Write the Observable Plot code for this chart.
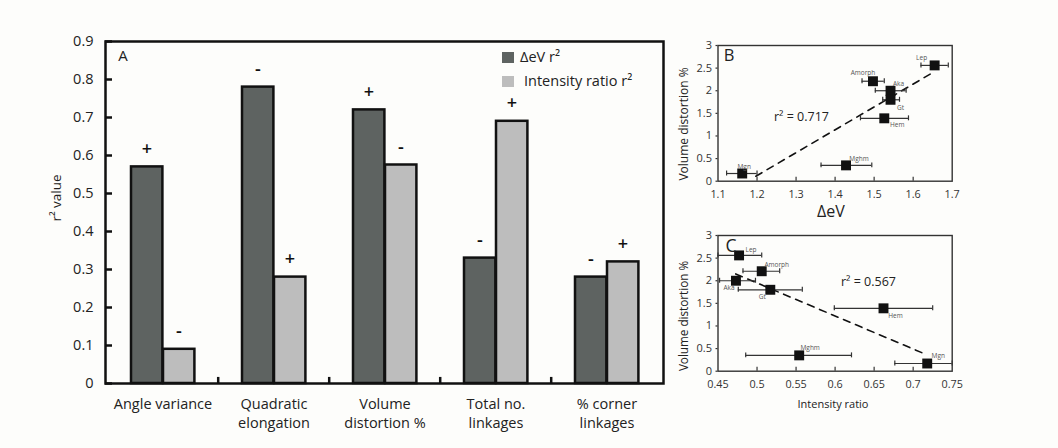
<!DOCTYPE html>
<html><head><meta charset="utf-8">
<script src="https://cdn.jsdelivr.net/npm/d3@7"></script>
<script src="https://cdn.jsdelivr.net/npm/@observablehq/plot@0.6"></script>
<style>
body{margin:0;background:#fdfdfb;}
#wrap{position:relative;width:1058px;height:448px;overflow:hidden;font-family:"Open Sans",sans-serif;color:#222;}
.panel{position:absolute;}
.lbl{position:absolute;white-space:nowrap;line-height:1;}
.c{transform:translate(-50%,-50%);}
.rot{transform:translate(-50%,-50%) rotate(-90deg);}
.sq{position:absolute;width:12px;height:11px;}
</style></head><body><div id="wrap"></div>
<script>
// ---------- Panel A data ----------
const categories = ["Angle variance", "Quadratic\nelongation", "Volume\ndistortion %", "Total no.\nlinkages", "% corner\nlinkages"];
const seriesNames = ["ΔeV r²", "Intensity ratio r²"];
const deltaEvR2 = [0.57, 0.78, 0.72, 0.33, 0.28];
const intensityR2 = [0.09, 0.28, 0.575, 0.69, 0.32];
const deltaEvSign = ["+", "-", "+", "-", "-"];
const intensitySign = ["-", "+", "-", "+", "+"];
const yTicksA = [0, 0.1, 0.2, 0.3, 0.4, 0.5, 0.6, 0.7, 0.8, 0.9];

// ---------- Panels B & C data ----------
const minerals = ["Lep", "Amorph", "Aka", "Gt", "Hem", "Mghm", "Mgn"];
const volDistortion = [2.56, 2.21, 2.0, 1.8, 1.39, 0.35, 0.17];
const deltaEv = [1.655, 1.497, 1.542, 1.542, 1.526, 1.428, 1.162];
const deltaEvLo = [1.62, 1.469, 1.503, 1.522, 1.465, 1.364, 1.122];
const deltaEvHi = [1.69, 1.526, 1.582, 1.565, 1.588, 1.494, 1.2];
const intensity = [0.477, 0.506, 0.473, 0.517, 0.662, 0.554, 0.718];
const intensityLo = [0.45, 0.482, 0.452, 0.476, 0.599, 0.4855, 0.6765];
const intensityHi = [0.506, 0.529, 0.498, 0.558, 0.725, 0.621, 0.75];
const fitB = {x: [1.197, 1.65], y: [0.11, 2.40]};
const fitC = {x: [0.4727, 0.7145], y: [2.15, 0.385]};
const r2B = "0.717", r2C = "0.567";
const xTicksB = [1.1, 1.2, 1.3, 1.4, 1.5, 1.6, 1.7];
const xTicksC = [0.45, 0.5, 0.55, 0.6, 0.65, 0.7, 0.75];
const yTicksBC = [0, 0.5, 1, 1.5, 2, 2.5, 3];

// ---------- layout (label offsets, px) ----------
const labelOffB = {Lep:[-13,-7], Amorph:[-10,-8], Aka:[8,-7], Gt:[10,8], Hem:[13,7], Mghm:[13,-6], Mgn:[2,-7]};
const labelOffC = {Lep:[12,-5], Amorph:[15,-6], Aka:[-7,7], Gt:[-8,7], Hem:[12,8], Mghm:[11,-7], Mgn:[11,-8]};

const FONT = "'Open Sans', sans-serif";
const darkFill = "#5e6361", lightFill = "#bdbdbd";
const fmt = d3.format("");
const wrap = document.getElementById("wrap");

function place(node, left, top) {
  const d = document.createElement("div");
  d.className = "panel"; d.style.left = left + "px"; d.style.top = top + "px";
  d.appendChild(node); wrap.appendChild(d);
}
function label(html, x, y, size, cls = "c", extra = "") {
  const d = document.createElement("div");
  d.className = "lbl " + cls; d.innerHTML = html;
  d.style.left = x + "px"; d.style.top = y + "px"; d.style.fontSize = size + "px";
  if (extra) d.style.cssText += extra;
  wrap.appendChild(d);
}

// ---------- Panel A ----------
const darkRows = categories.map((c, i) => ({cat: c, value: deltaEvR2[i], sign: deltaEvSign[i]}));
const lightRows = categories.map((c, i) => ({cat: c, value: intensityR2[i], sign: intensitySign[i]}));
const half = (663 - 105) / categories.length / 2;

const plotA = Plot.plot({
  width: 680, height: 448,
  marginLeft: 105, marginRight: 17, marginTop: 41, marginBottom: 65,
  x: {domain: categories, padding: 0, label: null},
  y: {domain: [0, 0.9], label: null},
  style: {background: "transparent", fontFamily: FONT, fontSize: "14.5px", color: "#222", overflow: "visible"},
  marks: [
    Plot.barY(darkRows, {x: "cat", y: "value", fill: darkFill, stroke: "#111", strokeWidth: 2.5, insetLeft: 24, insetRight: 2 * half - 56}),
    Plot.barY(lightRows, {x: "cat", y: "value", fill: lightFill, stroke: "#111", strokeWidth: 2.5, insetLeft: 56, insetRight: 2 * half - 88}),
    Plot.text(darkRows, {x: "cat", y: "value", text: "sign", dx: -16, dy: -12, lineAnchor: "bottom", fontSize: 18, fontWeight: 600, fill: "#111"}),
    Plot.text(lightRows, {x: "cat", y: "value", text: "sign", dx: 16, dy: -12, lineAnchor: "bottom", fontSize: 18, fontWeight: 600, fill: "#111"}),
    Plot.ruleX(categories.slice(1), {x: d => d, dx: -half, y1: 0, y2: 0.016, stroke: "#111", strokeWidth: 2.5}),
    Plot.frame({stroke: "#111", strokeWidth: 2.5}),
    Plot.axisY({ticks: yTicksA, tickSize: 0, tickPadding: 12, fontSize: 14.5, tickFormat: fmt}),
    Plot.axisY({ticks: yTicksA, tickSize: 7, dx: 7, tickFormat: () => "", stroke: "#111", strokeWidth: 2.5}),
    Plot.axisX({tickSize: 0, tickPadding: 12, lineHeight: 1.3, fontSize: 14.5})
  ]
});
place(plotA, 0, 0);

// legend + panel label + y title for A
const sq1 = document.createElement("div"); sq1.className = "sq"; sq1.style.cssText += `left:502px;top:52px;background:${darkFill};`; wrap.appendChild(sq1);
const sq2 = document.createElement("div"); sq2.className = "sq"; sq2.style.cssText += `left:502px;top:76px;background:${lightFill};`; wrap.appendChild(sq2);
label(seriesNames[0], 520, 57, 14.5, "", "transform:translateY(-50%);");
label(seriesNames[1], 524, 81, 14.5, "", "transform:translateY(-50%);");
label("A", 123, 55, 15);
label("r² value", 57, 198, 13.5, "rot");

// ---------- Panels B & C ----------
function scatterPanel({xs, lo, hi, xDomain, xTicks, fit, offsets, r2, r2dx, r2dy}) {
  const rows = minerals.map((m, i) => ({m, x: xs[i], lo: lo[i], hi: hi[i], y: volDistortion[i]}));
  const fitRows = fit.x.map((x, i) => ({x, y: fit.y[i]}));
  return Plot.plot({
    width: 300, height: 200,
    marginLeft: 47.5, marginRight: 18.3, marginTop: 20, marginBottom: 44.3,
    x: {domain: xDomain, label: null},
    y: {domain: [0, 3], label: null},
    style: {background: "transparent", fontFamily: FONT, fontSize: "11px", color: "#333", overflow: "visible"},
    marks: [
      Plot.frame({stroke: "#333", strokeWidth: 1.4}),
      Plot.axisX({ticks: xTicks, tickSize: 0, tickPadding: 9, fontSize: 10.8, tickFormat: fmt}),
      Plot.axisX({ticks: xTicks.slice(1, -1), tickSize: 4, dy: -4, tickFormat: () => "", stroke: "#333", strokeWidth: 1.2}),
      Plot.axisY({ticks: yTicksBC, tickSize: 2, tickPadding: 4, fontSize: 11, stroke: "#333", strokeWidth: 1.2, tickFormat: fmt}),
      Plot.line(fitRows, {x: "x", y: "y", stroke: "#111", strokeWidth: 1.6, strokeDasharray: "7,6"}),
      Plot.ruleY(rows, {y: "y", x1: "lo", x2: "hi", stroke: "#333", strokeWidth: 1.2}),
      Plot.ruleX(rows, {x: "lo", y1: d => d.y - 0.055, y2: d => d.y + 0.055, stroke: "#333", strokeWidth: 1.2}),
      Plot.ruleX(rows, {x: "hi", y1: d => d.y - 0.055, y2: d => d.y + 0.055, stroke: "#333", strokeWidth: 1.2}),
      Plot.dot(rows, {x: "x", y: "y", symbol: "square", r: 5.6, fill: "#111", stroke: null}),
      ...rows.map(d => Plot.text([d], {x: "x", y: "y", text: "m", dx: offsets[d.m][0], dy: offsets[d.m][1], fontSize: 6.5, fill: "#555"})),
      Plot.text([`r² = ${r2}`], {frameAnchor: "top-left", dx: r2dx, dy: r2dy, textAnchor: "start", fontSize: 12.5, fill: "#222"})
    ]
  });
}

const plotB = scatterPanel({xs: deltaEv, lo: deltaEvLo, hi: deltaEvHi, xDomain: [1.1, 1.7], xTicks: xTicksB, fit: fitB, offsets: labelOffB, r2: r2B, r2dx: 56, r2dy: 67});
place(plotB, 670, 25);
const plotC = scatterPanel({xs: intensity, lo: intensityLo, hi: intensityHi, xDomain: [0.45, 0.75], xTicks: xTicksC, fit: fitC, offsets: labelOffC, r2: r2C, r2dx: 123, r2dy: 42});
place(plotC, 670, 215);

label("B", 729, 55, 16.5);
label("C", 731, 246, 17.5);
label("ΔeV", 831, 211, 16);
label("Intensity ratio", 833, 403, 11);
label("Volume distortion %", 684, 124, 12, "rot");
label("Volume distortion %", 684, 316, 11.7, "rot");
</script></body></html>
